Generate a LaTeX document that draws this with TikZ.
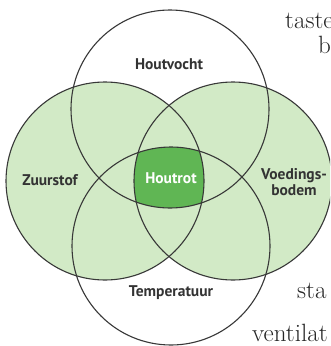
\documentclass[tikz,border=0pt]{standalone}
\usepackage{fontspec}
\setsansfont{PT Sans}
\begin{document}
\begin{tikzpicture}[x=1pt,y=-1pt,
  lbl/.style={font=\sffamily\bfseries\fontsize{15.5}{15.5}\selectfont, text=black!80, inner sep=0pt, align=center},
  page/.style={font=\fontsize{25}{27}\selectfont, text=black!85, inner sep=0pt, anchor=base west},
  ring/.style={draw=black!78, line width=1.1pt}]
\definecolor{lightgr}{RGB}{210,234,198}
\definecolor{darkgr}{RGB}{96,182,84}
\clip (0,0) rectangle (330,346);
\fill[white] (0,0) rectangle (330,346);
% circle centres
\coordinate (cT) at (170,109);
\coordinate (cB) at (171,246);
\coordinate (cL) at (105,181);
\coordinate (cR) at (233,181);
\fill[lightgr] (cL) circle[radius=99pt];
\fill[lightgr] (cR) circle[radius=99pt];
\begin{scope}
  \clip (cT) circle[radius=99pt];
  \clip (cB) circle[radius=99pt];
  \clip (cL) circle[radius=99pt];
  \fill[darkgr] (cR) circle[radius=99pt];
\end{scope}
\draw[ring] (cT) circle[radius=99pt];
\draw[ring] (cB) circle[radius=99pt];
\draw[ring] (cL) circle[radius=99pt];
\draw[ring] (cR) circle[radius=99pt];
% labels
\node[lbl] (houtvocht) at (169,64) {Houtvocht};
\node[lbl] (zuurstof) at (50,180) {Zuurstof};
\node[lbl, text=white] (houtrot) at (171,178) {Houtrot};
\node[lbl] (voedingsbodem) at (294,182) {Voedings-\\bodem};
\node[lbl] (temperatuur) at (171,293) {Temperatuur};
% fragments of the surrounding page text
\node[page] (p1) at (285,28) {taste};
\node[page] (p2) at (318,53) {b};
\node[page] (p3) at (297,298) {sta};
\node[page] (p4) at (252,341) {ventilat};
\end{tikzpicture}
\end{document}
